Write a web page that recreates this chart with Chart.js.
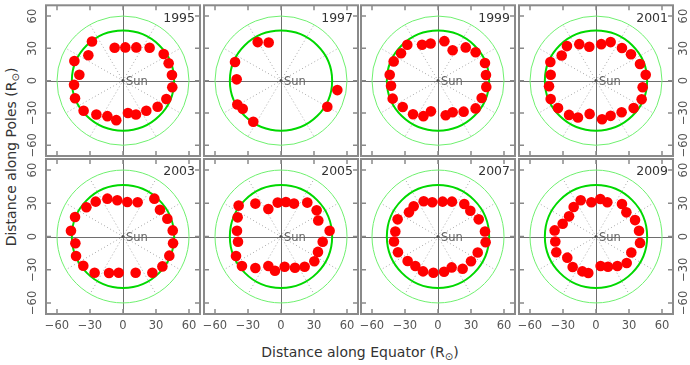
<!DOCTYPE html>
<html>
<head>
<meta charset="utf-8">
<script src="https://cdn.jsdelivr.net/npm/chart.js@4.4.1/dist/chart.umd.min.js"></script>
<style>
    body { margin: 0; background: #fff; }
    #wrap { position: relative; width: 690px; height: 365px; font-family: 'DejaVu Sans', sans-serif; }
    #wrap canvas { position: absolute; left: 0; top: 0; }
    .axis-title { position: absolute; color: #333; font-size: 14px; white-space: nowrap; transform: translate(-50%, -50%); }
    .axis-title sub { font-size: 10px; }
    #ytitle { transform: translate(-50%, -50%) rotate(-90deg); }
</style>
</head>
<body>
<div id="wrap">
    <div class="axis-title" id="xtitle" style="left:360px; top:353px;">Distance along Equator (R<sub>⊙</sub>)</div>
    <div class="axis-title" id="ytitle" style="left:12px; top:157px;">Distance along Poles (R<sub>⊙</sub>)</div>
</div>
<script>
// Panel years and tick labels
const years = ['1995', '1997', '1999', '2001', '2003', '2005', '2007', '2009'];
const tickValues = [-60, -30, 0, 30, 60];
const tickLabels = ['\u221260', '\u221230', '0', '30', '60'];

// Positions of the red points (distance along equator / poles, solar radii)
const eq1995 = [-28.2, -31.5, -44.2, -39.7, -44.5, -43.6, -35.8, -24.2, -14.2, -6.1, 4.5, 11.8, 21.2, 31.5, 39.4, 44.8, 44.5, 41.5, 37.0, 24.2, 12.1, 2.1, -7.6];
const pole1995 = [36.4, 23.6, 18.2, 5.5, -3.9, -16.4, -27.9, -31.5, -33.0, -36.7, -30.0, -31.5, -27.9, -24.2, -17.0, -6.1, 5.2, 16.1, 24.8, 30.6, 30.9, 30.9, 30.6];

const eq1997 = [-21.2, -11.2, -41.8, -40.3, -39.7, -34.8, -25.2, 42.1, 51.2];
const pole1997 = [35.8, 35.5, 17.3, 1.2, -22.1, -26.1, -38.2, -24.2, -8.8];

const eq1999 = [-27.9, -33.6, -40.3, -43.9, -42.7, -41.2, -32.1, -22.7, -13.3, -6.4, 7.0, 13.3, 23.3, 34.2, 39.7, 43.9, 43.6, 42.7, 34.2, 25.2, 13.3, 5.8, -6.7, -14.5];
const pole1999 = [33.3, 25.5, 17.9, 5.5, -4.8, -16.7, -24.5, -31.2, -33.0, -28.5, -32.1, -29.4, -28.8, -25.8, -16.1, -5.8, 5.2, 16.4, 26.4, 30.9, 28.2, 36.7, 34.5, 33.3];

const eq2001 = [-26.4, -31.2, -41.5, -41.2, -42.7, -41.2, -34.5, -24.5, -16.4, -5.8, 5.5, 13.3, 23.3, 34.2, 41.5, 42.4, 45.2, 40.0, 31.8, 23.6, 13.3, 4.8, -6.1, -15.2];
const pole2001 = [32.1, 23.3, 17.3, 5.5, -5.2, -17.0, -25.5, -31.8, -34.2, -30.9, -35.8, -32.7, -29.4, -25.5, -17.3, -6.1, 5.5, 15.5, 24.5, 30.3, 35.8, 33.9, 31.5, 33.9];

const eq2003 = [-24.8, -33.3, -43.6, -47.3, -43.3, -42.7, -36.1, -25.8, -12.7, -3.9, 11.5, 26.7, 35.8, 42.1, 45.5, 45.2, 40.3, 33.6, 28.5, 13.3, 3.9, -5.2, -14.2];
const pole2003 = [31.5, 26.4, 17.6, 5.2, -6.1, -17.6, -26.4, -32.7, -33.0, -32.7, -32.7, -32.7, -27.0, -17.3, -6.1, 5.5, 16.1, 24.2, 34.2, 30.9, 31.2, 32.7, 34.2];

const eq2005 = [-38.5, -23.3, -11.5, -3.0, 4.5, 11.8, 23.9, 32.4, 33.9, 44.2, 37.9, 33.6, 30.3, 21.5, 12.7, 3.3, -5.5, -11.5, -23.3, -35.5, -40.9, -39.1, -40.0, -39.4];
const pole2005 = [27.9, 29.7, 24.8, 30.6, 31.2, 29.7, 30.6, 23.6, 14.5, 5.2, -4.8, -13.9, -22.4, -27.3, -28.2, -27.3, -30.9, -26.7, -28.5, -26.7, -17.6, -4.8, 5.2, 17.3];

const eq2007 = [-13.0, -5.2, 4.2, 12.7, 23.9, 29.4, 37.0, 42.7, 43.3, 36.1, 30.0, 22.4, 12.4, 5.5, -4.2, -13.6, -20.6, -27.6, -36.4, -40.0, -38.8, -36.7, -26.4, -22.1];
const pole2007 = [31.8, 30.9, 31.5, 31.5, 29.4, 23.3, 15.5, 4.5, -5.2, -14.5, -22.4, -29.1, -27.9, -31.8, -32.7, -31.5, -26.7, -22.1, -14.2, -4.5, 4.5, 15.5, 21.8, 27.3];

const eq2009 = [-13.9, -20.3, -24.5, -30.3, -37.6, -37.0, -36.1, -26.1, -21.2, -12.4, -7.0, 4.2, 10.9, 19.4, 27.9, 32.1, 40.0, 39.1, 35.5, 27.6, 23.6, 10.3, 3.9, -4.2];
const pole2009 = [32.7, 26.7, 18.2, 11.5, 5.5, -4.5, -14.2, -19.1, -27.6, -31.5, -33.0, -26.7, -27.3, -26.7, -23.9, -14.5, -5.8, 5.2, 14.8, 21.8, 29.4, 30.9, 33.9, 30.9];

const eqSeries = [eq1995, eq1997, eq1999, eq2001, eq2003, eq2005, eq2007, eq2009];
const poleSeries = [pole1995, pole1997, pole1999, pole2001, pole2003, pole2005, pole2007, pole2009];

// reference circles (solar radii) and dotted spokes (degrees)
const thickRadius = 46.5;
const thinRadius = 60;
const spokeAngles = [30, 60, 120, 150, 210, 240, 300, 330];

// panel layout in page pixels
const colLeft = [46, 204, 361, 519];
const rowTop = [1, 159];
const panelW = 154;
const panelH = 155;
const pageW = 690;
const pageH = 365;

const panelDecor = {
    id: 'panelDecor',
    beforeDatasetsDraw(chart, args, opts) {
        const { ctx, chartArea: a, scales: { x, y } } = chart;
        const cx = x.getPixelForValue(0);
        const cy = y.getPixelForValue(0);
        ctx.save();
        ctx.beginPath();
        ctx.rect(a.left, a.top, a.width, a.height);
        ctx.clip();

        // dotted spokes
        ctx.strokeStyle = '#a8a8a8';
        ctx.lineWidth = 1;
        ctx.setLineDash([1, 2.5]);
        spokeAngles.forEach(deg => {
            const t = deg * Math.PI / 180;
            ctx.beginPath();
            ctx.moveTo(x.getPixelForValue(3 * Math.cos(t)), y.getPixelForValue(3 * Math.sin(t)));
            ctx.lineTo(x.getPixelForValue(thinRadius * Math.cos(t)), y.getPixelForValue(thinRadius * Math.sin(t)));
            ctx.stroke();
        });
        ctx.setLineDash([]);

        // cross through the Sun
        ctx.strokeStyle = '#6e6e6e';
        ctx.lineWidth = 1;
        ctx.beginPath();
        ctx.moveTo(a.left, Math.round(cy) + 0.5);
        ctx.lineTo(a.right, Math.round(cy) + 0.5);
        ctx.moveTo(Math.round(cx) + 0.5, a.top);
        ctx.lineTo(Math.round(cx) + 0.5, a.bottom);
        ctx.stroke();

        // circles
        const ring = (r, color, w) => {
            ctx.strokeStyle = color;
            ctx.lineWidth = w;
            ctx.beginPath();
            ctx.ellipse(cx, cy, x.getPixelForValue(r) - cx, cy - y.getPixelForValue(r), 0, 0, 2 * Math.PI);
            ctx.stroke();
        };
        ring(thinRadius, '#6ff06f', 1);
        ring(thickRadius, '#00d800', 2);

        // Sun marker
        ctx.fillStyle = '#555';
        ctx.beginPath();
        ctx.arc(cx, cy, 1.6, 0, 2 * Math.PI);
        ctx.fill();
        ctx.fillStyle = '#666';
        ctx.font = '11.5px "DejaVu Sans"';
        ctx.textAlign = 'left';
        ctx.textBaseline = 'middle';
        ctx.fillText('Sun', cx + 3, cy + 1.5);
        ctx.restore();
    },
    afterDraw(chart, args, opts) {
        const { ctx, chartArea: a, scales: { x, y } } = chart;
        ctx.save();

        // frame
        ctx.strokeStyle = '#8a8a8a';
        ctx.lineWidth = 2;
        ctx.strokeRect(a.left, a.top, a.width, a.height);

        // inner tick marks
        ctx.lineWidth = 1.5;
        ctx.beginPath();
        tickValues.forEach(v => {
            const px = x.getPixelForValue(v);
            const py = y.getPixelForValue(v);
            ctx.moveTo(px, a.bottom); ctx.lineTo(px, a.bottom - 5);
            ctx.moveTo(px, a.top); ctx.lineTo(px, a.top + 5);
            ctx.moveTo(a.left, py); ctx.lineTo(a.left + 5, py);
            ctx.moveTo(a.right, py); ctx.lineTo(a.right - 5, py);
        });
        ctx.stroke();

        // year label
        ctx.fillStyle = '#333';
        ctx.font = '12.5px "DejaVu Sans"';
        ctx.textAlign = 'right';
        ctx.textBaseline = 'middle';
        ctx.fillText(opts.year, a.right - 5, a.top + 13);

        // tick labels
        ctx.fillStyle = '#555';
        ctx.font = '11.5px "DejaVu Sans"';
        ctx.textAlign = 'center';
        ctx.textBaseline = 'middle';
        if (opts.row === 1) {
            tickValues.forEach((v, i) => {
                ctx.fillText(tickLabels[i], x.getPixelForValue(v), a.bottom + 12);
            });
        }
        const sideLabels = (xp) => {
            tickValues.forEach((v, i) => {
                ctx.save();
                ctx.translate(xp, y.getPixelForValue(v));
                ctx.rotate(-Math.PI / 2);
                ctx.fillText(tickLabels[i], 0, 0);
                ctx.restore();
            });
        };
        if (opts.col === 0) sideLabels(a.left - 13);
        if (opts.col === 3) sideLabels(a.right + 11);
        ctx.restore();
    }
};

const wrap = document.getElementById('wrap');

years.forEach((year, k) => {
    const col = k % 4;
    const row = Math.floor(k / 4);
    const canvas = document.createElement('canvas');
    canvas.width = pageW;
    canvas.height = pageH;
    wrap.appendChild(canvas);

    const left = colLeft[col];
    const top = rowTop[row];
    const points = eqSeries[k].map((v, i) => ({ x: v, y: poleSeries[k][i] }));

    new Chart(canvas.getContext('2d'), {
        type: 'scatter',
        data: {
            datasets: [{
                data: points,
                backgroundColor: '#ff0000',
                borderWidth: 0,
                pointRadius: 5.3,
                pointHoverRadius: 5.3
            }]
        },
        options: {
            responsive: false,
            animation: false,
            devicePixelRatio: 1,
            events: [],
            layout: {
                padding: { left: left, top: top, right: pageW - left - panelW, bottom: pageH - top - panelH }
            },
            scales: {
                x: { type: 'linear', min: -70, max: 70, display: false },
                y: { type: 'linear', min: -70, max: 70, display: false }
            },
            plugins: {
                legend: { display: false },
                tooltip: { enabled: false },
                panelDecor: { year: year, col: col, row: row }
            }
        },
        plugins: [panelDecor]
    });
});
</script>
</body>
</html>
